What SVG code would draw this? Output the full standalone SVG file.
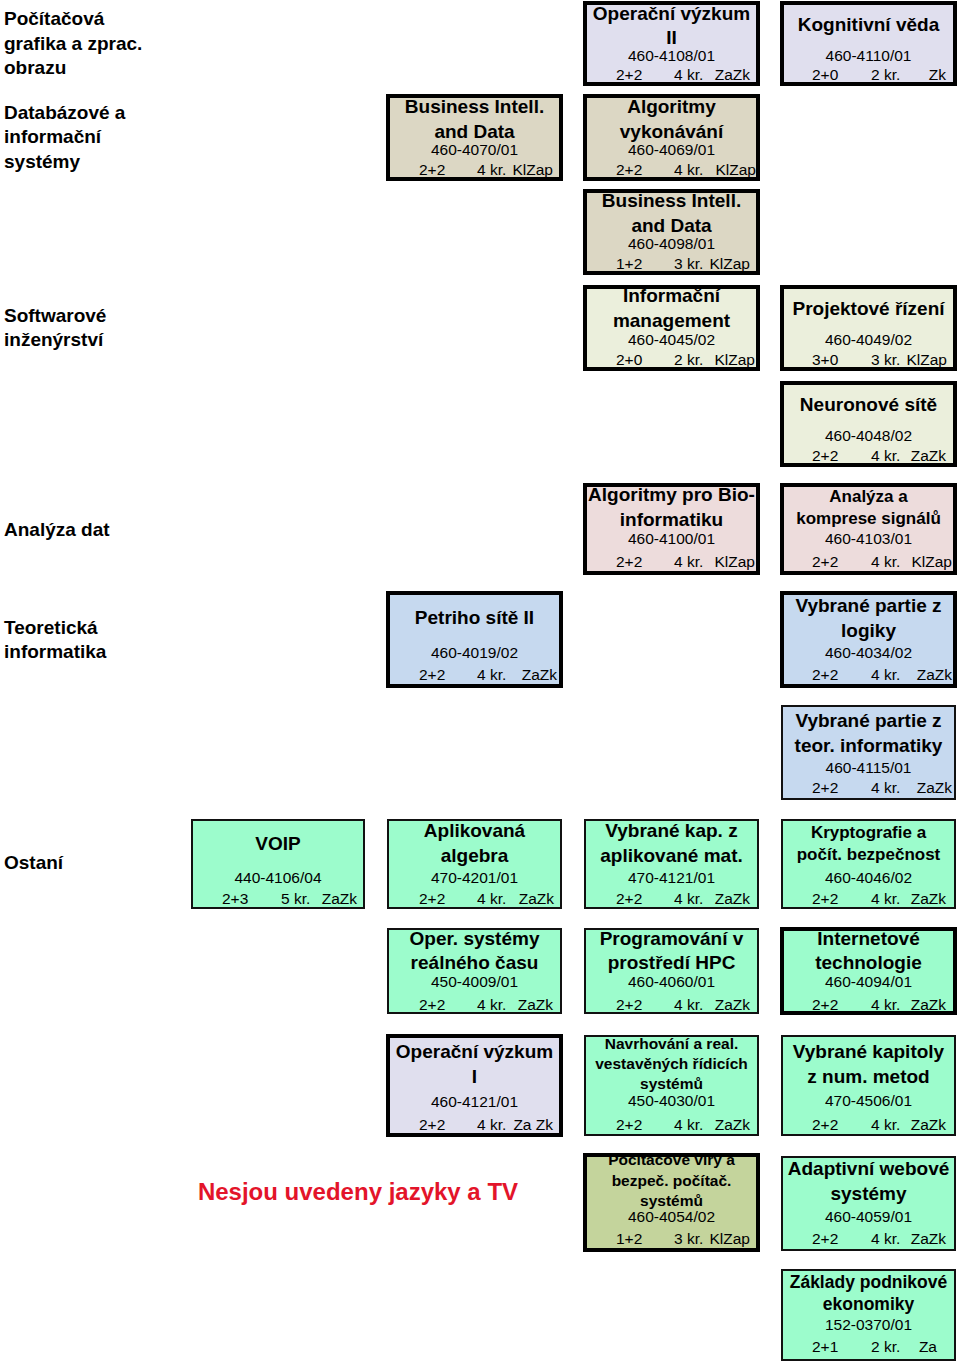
<svg xmlns="http://www.w3.org/2000/svg" width="960" height="1364" viewBox="0 0 960 1364">
<style>
text{font-family:"Liberation Sans",Arial,sans-serif;fill:#000}
.l{font-weight:bold;font-size:19px}
.t{font-weight:bold;font-size:19px;text-anchor:middle}
.ts{font-weight:bold;font-size:15.5px;text-anchor:middle}
.c{font-size:15.5px;text-anchor:middle}
.n{font-size:15.5px}
.g{font-size:15.5px;text-anchor:end}
.red{font-weight:bold;font-size:24px;fill:#e3142a;text-anchor:middle}
.bk{fill:none;stroke:#000;stroke-width:4}
.bn{fill:none;stroke:#111;stroke-width:2}
.lav{fill:#e0dfee}.tan{fill:#dcd7c4}.grn{fill:#ebefdc}.pnk{fill:#eddcdc}.blu{fill:#c6d9ef}.mnt{fill:#9cfccc}.olv{fill:#c4d49c}
</style>
<rect width="960" height="1364" fill="#fff"/>
<g id="labels">
<text class="l" x="4" y="25">Počítačová</text>
<text class="l" x="4" y="50">grafika a zprac.</text>
<text class="l" x="4" y="74">obrazu</text>
<text class="l" x="4" y="119">Databázové a</text>
<text class="l" x="4" y="143">informační</text>
<text class="l" x="4" y="168">systémy</text>
<text class="l" x="4" y="322">Softwarové</text>
<text class="l" x="4" y="346">inženýrství</text>
<text class="l" x="4" y="536">Analýza dat</text>
<text class="l" x="4" y="634">Teoretická</text>
<text class="l" x="4" y="658">informatika</text>
<text class="l" x="4" y="869">Ostaní</text>
<text class="red" x="358" y="1200">Nesjou uvedeny jazyky a TV</text>
</g>
<g id="connectors"></g>
<g id="n-4108">
<rect class="lav" x="585" y="3" width="173" height="81"/>
<text class="t" x="671.5" y="20">Operační výzkum</text><text class="t" x="671.5" y="44">II</text>
<text class="c" x="671.5" y="61">460-4108/01</text>
<text class="n" x="616" y="80">2+2</text><text class="n" x="674" y="80">4 kr.</text><text class="g" x="750" y="80">ZaZk</text>
<rect class="bk" x="585" y="3" width="173" height="81"/>
</g>
<g id="n-4110">
<rect class="lav" x="782" y="3" width="173" height="81"/>
<text class="t" x="868.5" y="31">Kognitivní věda</text>
<text class="c" x="868.5" y="61">460-4110/01</text>
<text class="n" x="812" y="80">2+0</text><text class="n" x="871" y="80">2 kr.</text><text class="g" x="946" y="80">Zk</text>
<rect class="bk" x="782" y="3" width="173" height="81"/>
</g>
<g id="n-4070">
<rect class="tan" x="388" y="96" width="173" height="83"/>
<text class="t" x="474.5" y="113">Business Intell.</text><text class="t" x="474.5" y="138">and Data</text>
<text class="c" x="474.5" y="155">460-4070/01</text>
<text class="n" x="419" y="175">2+2</text><text class="n" x="477" y="175">4 kr.</text><text class="g" x="553" y="175">KlZap</text>
<rect class="bk" x="388" y="96" width="173" height="83"/>
</g>
<g id="n-4069">
<rect class="tan" x="585" y="96" width="173" height="83"/>
<text class="t" x="671.5" y="113">Algoritmy</text><text class="t" x="671.5" y="138">vykonávání</text>
<text class="c" x="671.5" y="155">460-4069/01</text>
<text class="n" x="616" y="175">2+2</text><text class="n" x="674" y="175">4 kr.</text><text class="g" x="756" y="175">KlZap</text>
<rect class="bk" x="585" y="96" width="173" height="83"/>
</g>
<g id="n-4098">
<rect class="tan" x="585" y="191" width="173" height="82"/>
<text class="t" x="671.5" y="207">Business Intell.</text><text class="t" x="671.5" y="232">and Data</text>
<text class="c" x="671.5" y="249">460-4098/01</text>
<text class="n" x="616" y="269">1+2</text><text class="n" x="674" y="269">3 kr.</text><text class="g" x="750" y="269">KlZap</text>
<rect class="bk" x="585" y="191" width="173" height="82"/>
</g>
<g id="n-4045">
<rect class="grn" x="585" y="287" width="173" height="82"/>
<text class="t" x="671.5" y="302">Informační</text><text class="t" x="671.5" y="327">management</text>
<text class="c" x="671.5" y="345">460-4045/02</text>
<text class="n" x="616" y="365">2+0</text><text class="n" x="674" y="365">2 kr.</text><text class="g" x="755" y="365">KlZap</text>
<rect class="bk" x="585" y="287" width="173" height="82"/>
</g>
<g id="n-4049">
<rect class="grn" x="782" y="287" width="173" height="82"/>
<text class="t" x="868.5" y="315">Projektové řízení</text>
<text class="c" x="868.5" y="345">460-4049/02</text>
<text class="n" x="812" y="365">3+0</text><text class="n" x="871" y="365">3 kr.</text><text class="g" x="947" y="365">KlZap</text>
<rect class="bk" x="782" y="287" width="173" height="82"/>
</g>
<g id="n-4048">
<rect class="grn" x="782" y="383" width="173" height="82"/>
<text class="t" x="868.5" y="411">Neuronové sítě</text>
<text class="c" x="868.5" y="441">460-4048/02</text>
<text class="n" x="812" y="461">2+2</text><text class="n" x="871" y="461">4 kr.</text><text class="g" x="946" y="461">ZaZk</text>
<rect class="bk" x="782" y="383" width="173" height="82"/>
</g>
<g id="n-4100">
<rect class="pnk" x="585" y="485" width="173" height="88"/>
<text class="t" x="671.5" y="501">Algoritmy pro Bio-</text><text class="t" x="671.5" y="526">informatiku</text>
<text class="c" x="671.5" y="544">460-4100/01</text>
<text class="n" x="616" y="567">2+2</text><text class="n" x="674" y="567">4 kr.</text><text class="g" x="755" y="567">KlZap</text>
<rect class="bk" x="585" y="485" width="173" height="88"/>
</g>
<g id="n-4103">
<rect class="pnk" x="782" y="485" width="173" height="88"/>
<text class="t" x="868.5" y="502" style="font-size:17px">Analýza a</text><text class="t" x="868.5" y="524" style="font-size:17px">komprese signálů</text>
<text class="c" x="868.5" y="544">460-4103/01</text>
<text class="n" x="812" y="567">2+2</text><text class="n" x="871" y="567">4 kr.</text><text class="g" x="952" y="567">KlZap</text>
<rect class="bk" x="782" y="485" width="173" height="88"/>
</g>
<g id="n-4019">
<rect class="blu" x="388" y="593" width="173" height="93"/>
<text class="t" x="474.5" y="624">Petriho sítě II</text>
<text class="c" x="474.5" y="658">460-4019/02</text>
<text class="n" x="419" y="680">2+2</text><text class="n" x="477" y="680">4 kr.</text><text class="g" x="557" y="680">ZaZk</text>
<rect class="bk" x="388" y="593" width="173" height="93"/>
</g>
<g id="n-4034">
<rect class="blu" x="782" y="593" width="173" height="93"/>
<text class="t" x="868.5" y="612">Vybrané partie z</text><text class="t" x="868.5" y="637">logiky</text>
<text class="c" x="868.5" y="658">460-4034/02</text>
<text class="n" x="812" y="680">2+2</text><text class="n" x="871" y="680">4 kr.</text><text class="g" x="952" y="680">ZaZk</text>
<rect class="bk" x="782" y="593" width="173" height="93"/>
</g>
<g id="n-4115">
<rect class="blu" x="782" y="706" width="173" height="93"/>
<text class="t" x="868.5" y="727">Vybrané partie z</text><text class="t" x="868.5" y="752">teor. informatiky</text>
<text class="c" x="868.5" y="773">460-4115/01</text>
<text class="n" x="812" y="793">2+2</text><text class="n" x="871" y="793">4 kr.</text><text class="g" x="952" y="793">ZaZk</text>
<rect class="bn" x="782" y="706" width="173" height="93"/>
</g>
<g id="n-4106">
<rect class="mnt" x="192" y="820" width="172" height="88"/>
<text class="t" x="278" y="850">VOIP</text>
<text class="c" x="278" y="883">440-4106/04</text>
<text class="n" x="222" y="904">2+3</text><text class="n" x="281" y="904">5 kr.</text><text class="g" x="357" y="904">ZaZk</text>
<rect class="bn" x="192" y="820" width="172" height="88"/>
</g>
<g id="n-4201">
<rect class="mnt" x="388" y="820" width="173" height="88"/>
<text class="t" x="474.5" y="837">Aplikovaná</text><text class="t" x="474.5" y="862">algebra</text>
<text class="c" x="474.5" y="883">470-4201/01</text>
<text class="n" x="419" y="904">2+2</text><text class="n" x="477" y="904">4 kr.</text><text class="g" x="554" y="904">ZaZk</text>
<rect class="bn" x="388" y="820" width="173" height="88"/>
</g>
<g id="n-4121">
<rect class="mnt" x="585" y="820" width="173" height="88"/>
<text class="t" x="671.5" y="837">Vybrané kap. z</text><text class="t" x="671.5" y="862">aplikované mat.</text>
<text class="c" x="671.5" y="883">470-4121/01</text>
<text class="n" x="616" y="904">2+2</text><text class="n" x="674" y="904">4 kr.</text><text class="g" x="750" y="904">ZaZk</text>
<rect class="bn" x="585" y="820" width="173" height="88"/>
</g>
<g id="n-4046">
<rect class="mnt" x="782" y="820" width="173" height="88"/>
<text class="t" x="868.5" y="838" style="font-size:17px">Kryptografie a</text><text class="t" x="868.5" y="860" style="font-size:17px">počít. bezpečnost</text>
<text class="c" x="868.5" y="883">460-4046/02</text>
<text class="n" x="812" y="904">2+2</text><text class="n" x="871" y="904">4 kr.</text><text class="g" x="946" y="904">ZaZk</text>
<rect class="bn" x="782" y="820" width="173" height="88"/>
</g>
<g id="n-4009">
<rect class="mnt" x="388" y="929" width="173" height="84"/>
<text class="t" x="474.5" y="945">Oper. systémy</text><text class="t" x="474.5" y="969">reálného času</text>
<text class="c" x="474.5" y="987">450-4009/01</text>
<text class="n" x="419" y="1010">2+2</text><text class="n" x="477" y="1010">4 kr.</text><text class="g" x="553" y="1010">ZaZk</text>
<rect class="bn" x="388" y="929" width="173" height="84"/>
</g>
<g id="n-4060">
<rect class="mnt" x="585" y="929" width="173" height="84"/>
<text class="t" x="671.5" y="945">Programování v</text><text class="t" x="671.5" y="969">prostředí HPC</text>
<text class="c" x="671.5" y="987">460-4060/01</text>
<text class="n" x="616" y="1010">2+2</text><text class="n" x="674" y="1010">4 kr.</text><text class="g" x="750" y="1010">ZaZk</text>
<rect class="bn" x="585" y="929" width="173" height="84"/>
</g>
<g id="n-4094">
<rect class="mnt" x="782" y="929" width="173" height="84"/>
<text class="t" x="868.5" y="945">Internetové</text><text class="t" x="868.5" y="969">technologie</text>
<text class="c" x="868.5" y="987">460-4094/01</text>
<text class="n" x="812" y="1010">2+2</text><text class="n" x="871" y="1010">4 kr.</text><text class="g" x="946" y="1010">ZaZk</text>
<rect class="bk" x="782" y="929" width="173" height="84"/>
</g>
<g id="n-4121-I">
<rect class="lav" x="388" y="1036" width="173" height="99"/>
<text class="t" x="474.5" y="1058">Operační výzkum</text><text class="t" x="474.5" y="1083">I</text>
<text class="c" x="474.5" y="1107">460-4121/01</text>
<text class="n" x="419" y="1130">2+2</text><text class="n" x="477" y="1130">4 kr.</text><text class="g" x="553" y="1130">Za Zk</text>
<rect class="bk" x="388" y="1036" width="173" height="99"/>
</g>
<g id="n-4030">
<rect class="mnt" x="585" y="1036" width="173" height="99"/>
<text class="ts" x="671.5" y="1049">Navrhování a real.</text><text class="ts" x="671.5" y="1069">vestavěných řídicích</text><text class="ts" x="671.5" y="1089">systémů</text>
<text class="c" x="671.5" y="1106">450-4030/01</text>
<text class="n" x="616" y="1130">2+2</text><text class="n" x="674" y="1130">4 kr.</text><text class="g" x="750" y="1130">ZaZk</text>
<rect class="bn" x="585" y="1036" width="173" height="99"/>
</g>
<g id="n-4506">
<rect class="mnt" x="782" y="1036" width="173" height="99"/>
<text class="t" x="868.5" y="1058">Vybrané kapitoly</text><text class="t" x="868.5" y="1083">z num. metod</text>
<text class="c" x="868.5" y="1106">470-4506/01</text>
<text class="n" x="812" y="1130">2+2</text><text class="n" x="871" y="1130">4 kr.</text><text class="g" x="946" y="1130">ZaZk</text>
<rect class="bn" x="782" y="1036" width="173" height="99"/>
</g>
<g id="n-4054">
<rect class="olv" x="585" y="1155" width="173" height="95"/>
<text class="ts" x="671.5" y="1165">Počítačové viry a</text><text class="ts" x="671.5" y="1186">bezpeč. počítač.</text><text class="ts" x="671.5" y="1206">systémů</text>
<text class="c" x="671.5" y="1222">460-4054/02</text>
<text class="n" x="616" y="1244">1+2</text><text class="n" x="674" y="1244">3 kr.</text><text class="g" x="750" y="1244">KlZap</text>
<rect class="bk" x="585" y="1155" width="173" height="95"/>
</g>
<g id="n-4059">
<rect class="mnt" x="782" y="1157" width="173" height="93"/>
<text class="t" x="868.5" y="1175">Adaptivní webové</text><text class="t" x="868.5" y="1200">systémy</text>
<text class="c" x="868.5" y="1222">460-4059/01</text>
<text class="n" x="812" y="1244">2+2</text><text class="n" x="871" y="1244">4 kr.</text><text class="g" x="946" y="1244">ZaZk</text>
<rect class="bn" x="782" y="1157" width="173" height="93"/>
</g>
<g id="n-0370">
<rect class="mnt" x="782" y="1270" width="173" height="90"/>
<text class="t" x="868.5" y="1288" style="font-size:17.5px">Základy podnikové</text><text class="t" x="868.5" y="1310" style="font-size:17.5px">ekonomiky</text>
<text class="c" x="868.5" y="1330">152-0370/01</text>
<text class="n" x="812" y="1352">2+1</text><text class="n" x="871" y="1352">2 kr.</text><text class="g" x="937" y="1352">Za</text>
<rect class="bn" x="782" y="1270" width="173" height="90"/>
</g>
</svg>
